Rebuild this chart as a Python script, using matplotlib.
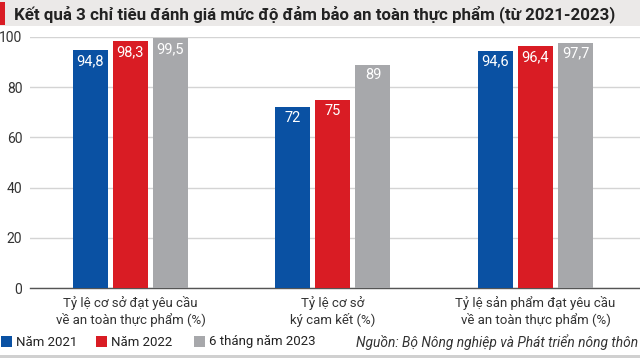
import matplotlib
matplotlib.use('Agg')
import matplotlib.pyplot as plt
import numpy as np
from matplotlib.patches import Rectangle

# Dữ liệu
chi_tieu = ['Tỷ lệ cơ sở đạt yêu cầu\nvề an toàn thực phẩm (%)',
            'Tỷ lệ cơ sở\nký cam kết (%)',
            'Tỷ lệ sản phẩm đạt yêu cầu\nvề an toàn thực phẩm (%)']
nam_2021 = [94.8, 72, 94.6]
nam_2022 = [98.3, 75, 96.4]
nam_2023 = [99.5, 89, 97.7]
nhan_2021 = ['94,8', '72', '94,6']
nhan_2022 = ['98,3', '75', '96,4']
nhan_2023 = ['99,5', '89', '97,7']
yticks = [0, 20, 40, 60, 80, 100]

plt.rcParams['font.family'] = ['Roboto', 'DejaVu Sans']

xanh = '#0a51a3'
do = '#d91c24'
xam = '#a7a8ab'

fig = plt.figure(figsize=(6.4, 3.58), dpi=100)
W, H = 640, 358

def fx(px):
    return px / W

def fy(py):
    return 1 - py / H

# Thanh tiêu đề
fig.patches.append(Rectangle((0, fy(26)), 1, 26 / H, transform=fig.transFigure,
                             facecolor='#ebe9e8', edgecolor='none', zorder=0))
fig.patches.append(Rectangle((0, fy(25)), fx(5), 23 / H, transform=fig.transFigure,
                             facecolor=do, edgecolor='none', zorder=1))
fig.text(fx(14), fy(14), 'Kết quả 3 chỉ tiêu đánh giá mức độ đảm bảo an toàn thực phẩm (từ 2021-2023)',
         fontsize=12.2, fontweight='bold', color='#222222', va='center', ha='left')

ax = fig.add_axes([fx(30), fy(288), 1 - fx(30), (288 - 37) / H])
x = np.arange(len(chi_tieu))
w = 0.173
d = 0.1975
series = [(nam_2021, nhan_2021, xanh), (nam_2022, nhan_2022, do), (nam_2023, nhan_2023, xam)]
for i, (vals, labels, c) in enumerate(series):
    bars = ax.bar(x + (i - 1) * d, vals, width=w, color=c, zorder=3)
    for b, lab in zip(bars, labels):
        ax.text(b.get_x() + b.get_width() / 2, b.get_height() - 1.5, lab,
                ha='center', va='top', color='white', fontsize=10.5, zorder=4)

ax.set_xlim(-0.496, 2.516)
ax.set_ylim(0, 100)
ax.set_yticks(yticks)
ax.set_yticklabels([str(t) for t in yticks], fontsize=10, color='#333333')
ax.tick_params(axis='y', length=0, pad=5.5)
ax.set_xticks(x)
ax.set_xticklabels(chi_tieu, fontsize=9.5, color='#333333', linespacing=1.25)
ax.tick_params(axis='x', length=0, pad=6)
for s in ['top', 'right', 'left']:
    ax.spines[s].set_visible(False)
ax.spines['bottom'].set_color('#555555')
ax.spines['bottom'].set_linewidth(1)
ax.yaxis.grid(True, color='#d4d4d4', linewidth=1, zorder=0)
ax.set_axisbelow(True)
ax.patch.set_alpha(0)

# Chú giải
leg = [(1, 16, 'Năm 2021', xanh), (96, 111, 'Năm 2022', do), (194, 209, '6 tháng năm 2023', xam)]
for sx, tx, lab, c in leg:
    fig.patches.append(Rectangle((fx(sx), fy(347)), fx(11), 11 / H, transform=fig.transFigure,
                                 facecolor=c, edgecolor='none'))
    fig.text(fx(tx), fy(342), lab, fontsize=9.5, color='#222222', va='center', ha='left')

fig.text(fx(638), fy(342), 'Nguồn: Bộ Nông nghiệp và Phát triển nông thôn',
         fontsize=9.9, style='italic', color='#333333', va='center', ha='right')

fig.patches.append(Rectangle((0, 0), 1, 3 / H, transform=fig.transFigure,
                             facecolor='#d0d0d0', edgecolor='none'))

fig.savefig('out.png', dpi=100)
